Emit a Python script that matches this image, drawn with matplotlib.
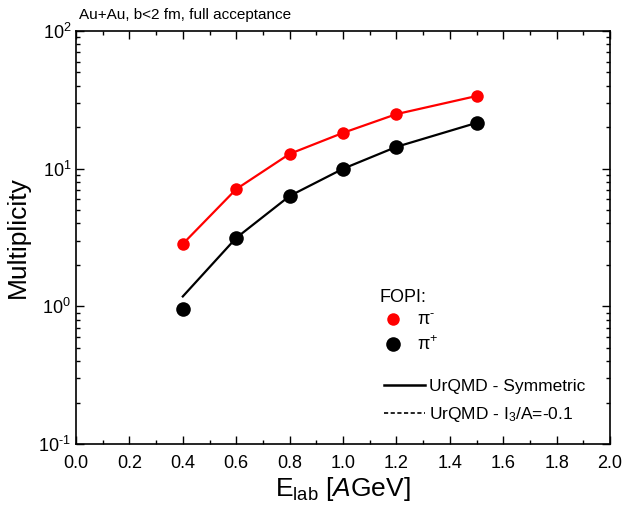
import matplotlib
matplotlib.use("Agg")
import matplotlib.pyplot as plt
from matplotlib.lines import Line2D
from matplotlib.ticker import MultipleLocator, LogLocator, NullFormatter
import numpy as np

plt.rcParams['font.family'] = ['Liberation Sans', 'DejaVu Sans']
plt.rcParams['mathtext.fontset'] = 'custom'
plt.rcParams['mathtext.rm'] = 'Liberation Sans'
plt.rcParams['mathtext.it'] = 'Liberation Sans:italic'
plt.rcParams['mathtext.default'] = 'regular'

# beam energies (AGeV)
energy = [0.4, 0.6, 0.8, 1.0, 1.2, 1.5]
# FOPI data
fopi_pim = [2.84, 7.1, 12.8, 18.2, 24.9, 33.7]
fopi_pip = [0.96, 3.14, 6.33, 9.98, 14.4, 21.5]
# UrQMD curves
urqmd_pim = [2.84, 7.1, 12.8, 18.2, 24.9, 33.7]
urqmd_pip = [1.18, 3.14, 6.33, 9.98, 14.4, 21.5]

fig = plt.figure(figsize=(6.3, 5.08), dpi=100)
ax = fig.add_axes([76/630, 1-444/508, 534/630, 413/508])

ax.plot(energy, urqmd_pim, color='red', lw=1.6)
ax.plot(energy, urqmd_pip, color='black', lw=1.6)
ax.plot(energy, fopi_pim, 'o', color='red', ms=9, mec='none')
ax.plot(energy, fopi_pip, 'o', color='black', ms=10.5, mec='none')

ax.set_yscale('log')
ax.set_xlim(0, 2.0)
ax.set_ylim(0.1, 100)
ax.xaxis.set_minor_locator(MultipleLocator(0.1))
ax.yaxis.set_minor_locator(LogLocator(base=10, subs=np.arange(2, 10)))
ax.yaxis.set_minor_formatter(NullFormatter())
ax.set_xticks(np.arange(0, 2.01, 0.2))
ax.set_xticklabels(['%.1f' % v for v in np.arange(0, 2.01, 0.2)])
ax.set_yticks([0.1, 1, 10, 100])
ax.set_yticklabels(['$10^{\\text{-}1}$', '$10^{0}$', '$10^{1}$', '$10^{2}$'])
for lab in ax.get_yticklabels():
    lab.set_va('center_baseline')

ax.tick_params(which='both', direction='in', top=True, right=True, labelsize=13)
ax.tick_params(axis='x', which='major', pad=8)
ax.tick_params(which='major', length=6, width=1)
ax.tick_params(which='minor', length=3, width=1)
for s in ax.spines.values():
    s.set_linewidth(1.2)

ax.set_xlabel('E$_{lab}$ [$\\it{A}$GeV]', fontsize=19, labelpad=2)
ax.set_ylabel('Multiplicity', fontsize=19, labelpad=6)
ax.text(0.005, 1.022, 'Au+Au, b<2 fm, full acceptance', transform=ax.transAxes,
        fontsize=11, ha='left', va='bottom')

# legends
h1 = [Line2D([], [], ls='none', marker='o', color='red', ms=9, mec='none'),
      Line2D([], [], ls='none', marker='o', color='black', ms=10.5, mec='none')]
leg1 = ax.legend(h1, ['$\\pi^{\\text{-}}$', '$\\pi^{+}$'], title='FOPI:', frameon=False,
                 loc='upper left', bbox_to_anchor=(0.538, 0.415), fontsize=13,
                 title_fontsize=13, handletextpad=0.6, labelspacing=0.35,
                 handlelength=1.5)
leg1._legend_box.align = 'left'
ax.add_artist(leg1)

h2 = [Line2D([], [], color='black', lw=1.8),
      Line2D([], [], color='black', lw=1.2, ls=(0, (2.5, 1.5)))]
ax.legend(h2, ['UrQMD - Symmetric', 'UrQMD - I$_3$/A=-0.1'], frameon=False,
          loc='upper left', bbox_to_anchor=(0.547, 0.195), fontsize=12.5,
          handlelength=2.4, handletextpad=0.2, labelspacing=0.6)

fig.savefig('out.png', dpi=100)
